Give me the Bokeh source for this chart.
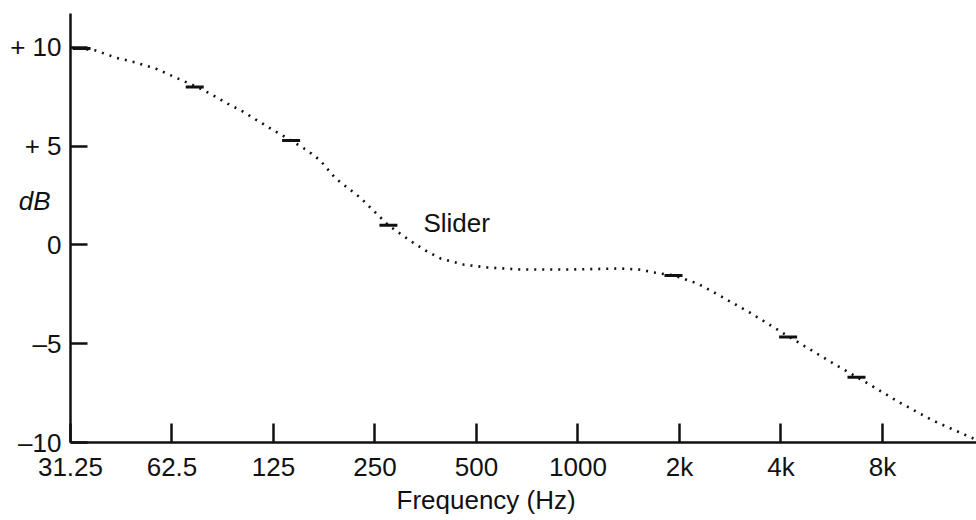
from bokeh.plotting import figure
from bokeh.models import Range1d, FixedTicker, Title, LinearAxis
from bokeh.embed import file_html
from bokeh.resources import INLINE

# Curve (dotted): frequency in Hz, gain in dB
curve_freq = [31.25, 37.1, 42.5, 48.7, 55.8, 64.0, 74.9, 83, 91.3, 101.2, 112, 122.4, 141,
              157.7, 172, 191, 226, 274, 319, 353, 391, 457, 539, 675, 950, 1337, 1533, 1674,
              1920, 2262, 2593, 3247, 4240, 5724, 6745, 9047, 11330, 14894]
curve_db = [10.0, 9.85, 9.49, 9.24, 8.94, 8.48, 7.97, 7.57, 7.16, 6.76, 6.3, 5.9, 5.29,
            4.78, 4.28, 3.37, 2.4, 1.0, 0.2, -0.28, -0.68, -0.99, -1.14, -1.24, -1.24, -1.19,
            -1.25, -1.39, -1.54, -1.95, -2.5, -3.44, -4.66, -6.0, -6.7, -8.0, -8.9, -9.8]

# Slider positions
slider_freq = [33.7, 73, 141, 274, 1920, 4200, 6700]
slider_db = [9.95, 8.0, 5.29, 1.0, -1.54, -4.66, -6.7]

x_ticks = [31.25, 62.5, 125, 250, 500, 1000, 2000, 4000, 8000]
x_labels = ["31.25", "62.5", "125", "250", "500", "1000", "2k", "4k", "8k"]
y_ticks = [-10, -5, 0, 5, 10]
y_labels = ["\u201310", "\u20135", "0", "+ 5", "+ 10"]
unit_tick = [2.25]
unit_label = ["dB"]

FONT = "Liberation Sans"
INK = "#111111"

p = figure(width=976, height=520, x_axis_type="log",
           x_range=Range1d(31.25, 15206), y_range=Range1d(-10, 11.72),
           output_backend="svg", toolbar_location=None,
           min_border_left=70, min_border_right=0, min_border_top=13, min_border_bottom=78)
p.outline_line_color = None
p.xgrid.visible = False
p.ygrid.visible = False
p.background_fill_color = "white"

p.line(curve_freq, curve_db, line_color=INK, line_width=2.6, line_dash="2 6")
p.scatter(slider_freq, slider_db, marker="dash", size=18, line_width=3, line_color=INK)

xa = p.xaxis[0]
xa.ticker = FixedTicker(ticks=x_ticks)
xa.major_label_overrides = {t: l for t, l in zip(x_ticks, x_labels)}
xa.minor_tick_line_color = None
xa.major_tick_in = 19
xa.major_tick_out = 0
xa.major_tick_line_width = 2.5
xa.major_tick_line_color = INK
xa.axis_line_width = 2.5
xa.axis_line_color = INK
xa.major_label_text_font = FONT
xa.major_label_text_font_size = "26px"
xa.major_label_text_color = INK
xa.major_label_standoff = 9

ya = p.yaxis[0]
ya.ticker = FixedTicker(ticks=y_ticks)
ya.major_label_overrides = {t: l for t, l in zip(y_ticks, y_labels)}
ya.minor_tick_line_color = None
ya.major_tick_in = 17
ya.major_tick_out = 0
ya.major_tick_line_width = 2.5
ya.major_tick_line_color = INK
ya.axis_line_width = 2.5
ya.axis_line_color = INK
ya.major_label_text_font = FONT
ya.major_label_text_font_size = "26px"
ya.major_label_text_color = INK
ya.major_label_standoff = 9

# unit label "dB" as a tick-less outer axis
ua = LinearAxis(ticker=FixedTicker(ticks=unit_tick),
                major_label_overrides={t: l for t, l in zip(unit_tick, unit_label)})
ua.axis_line_color = None
ua.major_tick_line_color = None
ua.minor_tick_line_color = None
ua.major_tick_in = 0
ua.major_tick_out = 0
ua.major_label_text_font = FONT
ua.major_label_text_font_style = "italic"
ua.major_label_text_font_size = "26px"
ua.major_label_text_color = INK
ua.major_label_standoff = -43
p.add_layout(ua, "left")

p.add_layout(Title(text="Frequency (Hz)", align="left", offset=326,
                   text_font=FONT, text_font_size="26px", text_font_style="normal",
                   text_color=INK, standoff=-4), "below")
p.text(x=[348], y=[1.09], text=["Slider"], text_font_size="26px",
       text_color=INK, text_align="left", text_baseline="middle",
       text_font={"value": FONT})

open("out.html", "w").write(file_html(p, INLINE))
